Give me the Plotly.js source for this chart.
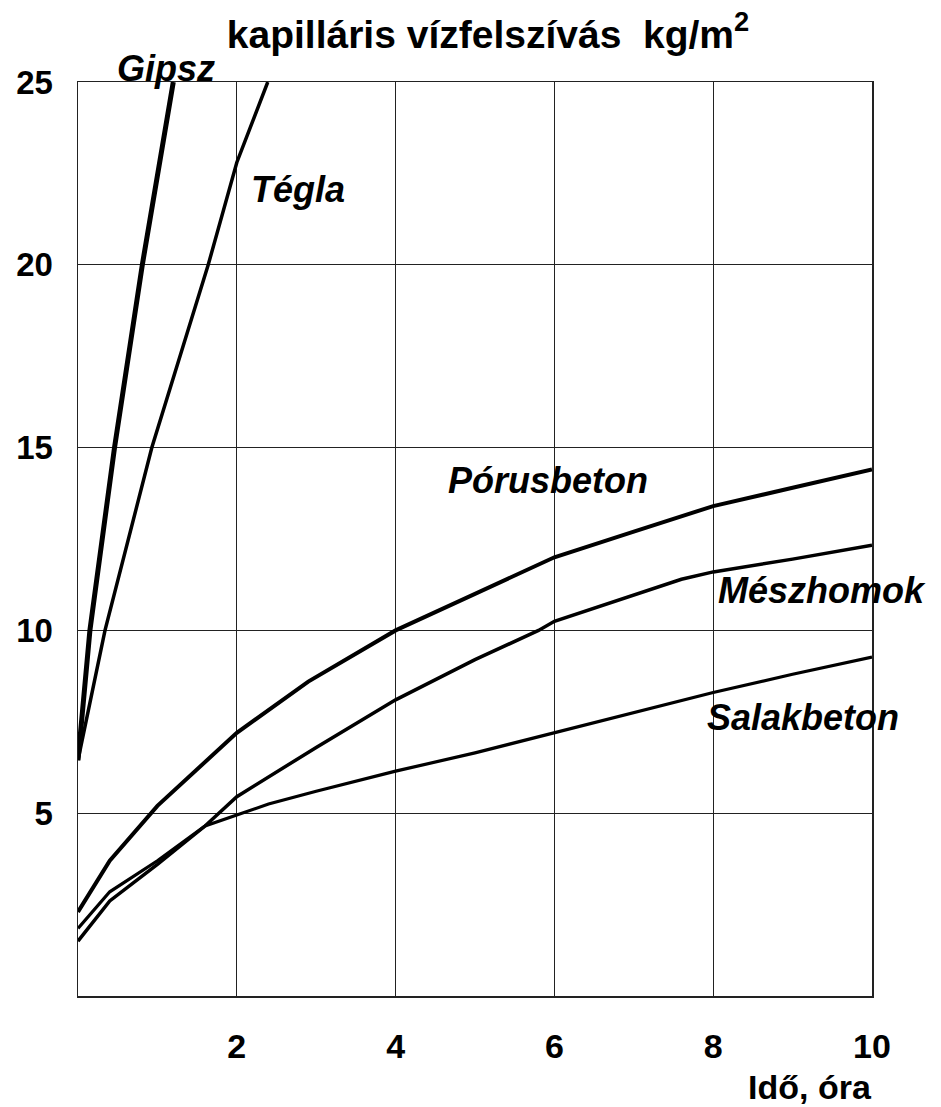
<!DOCTYPE html>
<html>
<head>
<meta charset="utf-8">
<script src="https://cdn.plot.ly/plotly-3.0.1.min.js"></script>
<style>html,body{margin:0;padding:0;background:#fff;}#chart{width:941px;height:1107px;}</style>
</head>
<body>
<div id="chart"></div>
<script>
// Data
const xGipsz = [0, 0.15, 0.46, 0.81, 1.2];
const yGipsz = [6.45, 10, 15, 20, 25];

const xTegla = [0, 0.34, 0.93, 1.64, 2, 2.39];
const yTegla = [6.45, 10, 15, 20, 22.8, 25];

const xPorus = [0, 0.4, 1, 2, 2.9, 4, 5, 6, 7, 8, 9, 10];
const yPorus = [2.3, 3.7, 5.2, 7.2, 8.6, 10.0, 11.0, 12.0, 12.7, 13.4, 13.9, 14.4];

const xMesz = [0, 0.4, 1, 1.6, 2, 3, 4, 5, 5.8, 6, 7.6, 8, 9, 10];
const yMesz = [1.5, 2.6, 3.6, 4.65, 5.45, 6.8, 8.1, 9.2, 10.0, 10.25, 11.4, 11.6, 11.95, 12.33];

const xSalak = [0, 0.4, 1, 1.6, 2, 2.4, 3, 4, 5, 6, 7, 8, 9, 10];
const ySalak = [1.85, 2.85, 3.7, 4.65, 4.95, 5.25, 5.6, 6.15, 6.65, 7.2, 7.75, 8.3, 8.8, 9.27];

const xTickVals = [2, 4, 6, 8, 10];
const yTickVals = [5, 10, 15, 20, 25];

const seriesNames = ['Gipsz', 'Tégla', 'Pórusbeton', 'Mészhomok', 'Salakbeton'];
const titleText = 'kapilláris vízfelszívás\u00a0 kg/m<sup>2</sup>';
const xTitleText = 'Idő, óra';

const FONT = 'Liberation Sans, Arial, sans-serif';

function line(x, y, name, w) {
  return {x: x, y: y, name: name, type: 'scatter', mode: 'lines',
          line: {color: '#000', width: w, shape: 'linear'}, hoverinfo: 'skip'};
}

const traces = [
  line(xGipsz, yGipsz, seriesNames[0], 5),
  line(xTegla, yTegla, seriesNames[1], 3.5),
  line(xPorus, yPorus, seriesNames[2], 4),
  line(xMesz, yMesz, seriesNames[3], 3.5),
  line(xSalak, ySalak, seriesNames[4], 3.2)
];

const labFont = {family: FONT, size: 36, color: '#000', weight: 700, style: 'italic'};
function lab(text, x, y) {
  return {text: text, x: x, y: y, xref: 'x', yref: 'y', xanchor: 'left', yanchor: 'middle',
          showarrow: false, font: labFont};
}

const axisCommon = {
  showgrid: true, gridcolor: '#222', gridwidth: 1.3,
  showline: true, linecolor: '#222', linewidth: 1.5, mirror: true,
  zeroline: false, ticks: '', fixedrange: true
};

const layout = {
  width: 941, height: 1107,
  margin: {l: 78, r: 69, t: 82, b: 111, pad: 0},
  paper_bgcolor: '#fff', plot_bgcolor: '#fff',
  showlegend: false,
  title: {text: titleText, x: 488 / 941, xref: 'container', xanchor: 'center',
          y: 1 - 34 / 1107, yref: 'container', yanchor: 'middle',
          font: {family: FONT, size: 39, color: '#000', weight: 700}},
  xaxis: Object.assign({}, axisCommon, {range: [0, 10], tickvals: xTickVals,
          ticktext: xTickVals.map(String), ticklabelstandoff: 20,
          tickfont: {family: FONT, size: 34, color: '#000', weight: 700}}),
  yaxis: Object.assign({}, axisCommon, {range: [0, 25], tickvals: yTickVals,
          ticktext: yTickVals.map(String), ticklabelstandoff: 17,
          tickfont: {family: FONT, size: 33, color: '#000', weight: 700}}),
  annotations: [
    {text: seriesNames[0], x: 0.47, y: 1 + 14 / 914, xref: 'x', yref: 'paper',
     xanchor: 'left', yanchor: 'middle', showarrow: false, font: labFont},
    lab(seriesNames[1], 2.15, 22.05),
    lab(seriesNames[2], 4.63, 14.11),
    lab(seriesNames[3], 8.03, 11.1),
    lab(seriesNames[4], 7.9, 7.63),
    {text: xTitleText, x: (810 - 78) / 794, y: -(1087 - 996) / 914, xref: 'paper', yref: 'paper',
     xanchor: 'center', yanchor: 'middle', showarrow: false,
     font: {family: FONT, size: 34, color: '#000', weight: 700}}
  ]
};

Plotly.newPlot('chart', traces, layout, {displayModeBar: false, staticPlot: true});
</script>
</body>
</html>
